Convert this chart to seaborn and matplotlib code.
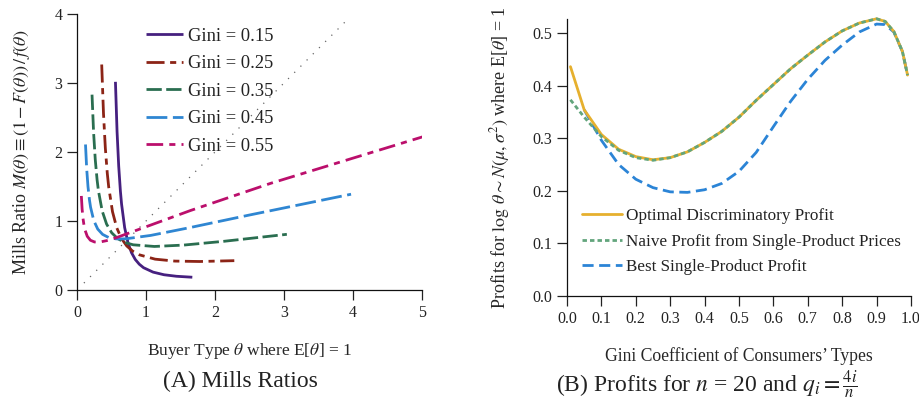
import numpy as np
import pandas as pd
import matplotlib
matplotlib.use("Agg")
import matplotlib.pyplot as plt
import seaborn as sns

# ---------------- Panel A data: Mills ratios ----------------
theta_g15 = [0.5571, 0.5805, 0.6043, 0.6290, 0.6460, 0.6907, 0.7385, 0.7895, 0.8441, 0.9025, 0.9649, 1.1030, 1.2607, 1.4411, 1.6711]
mills_g15 = [3.017, 2.297, 1.798, 1.433, 1.245, 0.904, 0.687, 0.542, 0.443, 0.374, 0.323, 0.259, 0.221, 0.199, 0.185]

theta_g25 = [0.3581, 0.3838, 0.4106, 0.4393, 0.4596, 0.5144, 0.5757, 0.6444, 0.7212, 0.8072, 0.9035, 1.1318, 1.4178, 1.7761, 2.2796]
mills_g25 = [3.268, 2.560, 2.058, 1.687, 1.492, 1.135, 0.902, 0.746, 0.638, 0.563, 0.510, 0.447, 0.419, 0.413, 0.425]

theta_g35 = [0.2178, 0.2404, 0.2647, 0.2914, 0.3108, 0.3648, 0.4284, 0.5029, 0.5904, 0.6931, 0.8139, 1.1218, 1.5462, 2.1313, 3.0413]
mills_g35 = [2.831, 2.284, 1.890, 1.594, 1.437, 1.146, 0.956, 0.829, 0.744, 0.689, 0.655, 0.631, 0.651, 0.706, 0.807]

theta_g45 = [0.1232, 0.1404, 0.1593, 0.1809, 0.1968, 0.2431, 0.3004, 0.3711, 0.4584, 0.5663, 0.6996, 1.0676, 1.6292, 2.4863, 3.9718]
mills_g45 = [2.109, 1.757, 1.498, 1.303, 1.199, 1.006, 0.883, 0.806, 0.761, 0.741, 0.741, 0.791, 0.903, 1.084, 1.388]

theta_g55 = [0.0630, 0.0742, 0.0872, 0.1023, 0.1138, 0.1487, 0.1942, 0.2536, 0.3313, 0.4327, 0.5652, 0.9642, 1.6450, 2.8064, 5.0717]
mills_g55 = [1.363, 1.173, 1.036, 0.931, 0.876, 0.778, 0.721, 0.696, 0.695, 0.716, 0.757, 0.903, 1.152, 1.546, 2.239]

gini_labels = ["Gini = 0.15", "Gini = 0.25", "Gini = 0.35", "Gini = 0.45", "Gini = 0.55"]
diag_line = [0.1, 3.95]

# ---------------- Panel B data: profits ----------------
gini = [0.01, 0.05, 0.10, 0.15, 0.20, 0.25, 0.30, 0.35, 0.40, 0.45, 0.50, 0.55,
        0.60, 0.65, 0.70, 0.75, 0.80, 0.85, 0.90, 0.925, 0.95, 0.975, 0.99]
optimal = [0.436, 0.354, 0.307, 0.279, 0.265, 0.259, 0.263, 0.274, 0.292, 0.313, 0.340, 0.372,
           0.402, 0.432, 0.458, 0.483, 0.504, 0.519, 0.527, 0.522, 0.503, 0.465, 0.420]
naive = [0.373, 0.340, 0.303, 0.277, 0.263, 0.258, 0.263, 0.274, 0.292, 0.313, 0.340, 0.372,
         0.402, 0.432, 0.458, 0.483, 0.504, 0.519, 0.527, 0.522, 0.503, 0.465, 0.420]
best_single = [np.nan, 0.354, 0.296, 0.250, 0.222, 0.206, 0.198, 0.197, 0.202, 0.214, 0.237, 0.273,
               0.322, 0.370, 0.412, 0.448, 0.477, 0.502, 0.517, 0.516, 0.502, 0.465, 0.420]
profit_labels = ["Optimal Discriminatory Profit", "Naive Profit from Single-Product Prices",
                 "Best Single-Product Profit"]

# ---------------- style ----------------
sns.set_style("ticks")
plt.rcParams["font.family"] = ["Liberation Serif", "DejaVu Serif"]
plt.rcParams["mathtext.fontset"] = "stix"
plt.rcParams["axes.linewidth"] = 0.9
plt.rcParams["xtick.major.size"] = 7
plt.rcParams["ytick.major.size"] = 7
plt.rcParams["xtick.major.width"] = 0.9
plt.rcParams["ytick.major.width"] = 0.9
plt.rcParams["text.color"] = "#222222"
plt.rcParams["xtick.color"] = "#222222"
plt.rcParams["ytick.color"] = "#222222"
plt.rcParams["axes.edgecolor"] = "#111111"

W, H = 919, 408
fig = plt.figure(figsize=(W / 100, H / 100), dpi=100)

# ---- Panel A ----
axA = fig.add_axes([77 / W, 1 - 290 / H, 345 / W, 276 / H])
colorsA = ["#46207f", "#8c2416", "#2a6e50", "#2f86d2", "#bb0f6c"]
dashesA = [None, (6.5, 2.0, 2.2, 2.0), (5.5, 1.6), (7.5, 2.0), (6.0, 2.2, 2.2, 2.2)]
seriesA = [(theta_g15, mills_g15), (theta_g25, mills_g25), (theta_g35, mills_g35),
           (theta_g45, mills_g45), (theta_g55, mills_g55)]

sns.lineplot(x=diag_line, y=diag_line, ax=axA, color="#666666", lw=0.9, sort=False)
axA.lines[-1].set_linestyle((0, (1, 6)))

handlesA = []
for (xs, ys), c, d, lab in zip(seriesA, colorsA, dashesA, gini_labels):
    df = pd.DataFrame({"theta": xs, "mills": ys})
    sns.lineplot(data=df, x="theta", y="mills", ax=axA, color=c, lw=2.0, sort=False,
                 estimator=None)
    ln = axA.lines[-1]
    if d is not None:
        ln.set_dashes(d)
    ln.set_solid_capstyle("butt")
    ln.set_dash_capstyle("butt")
    handlesA.append(ln)

axA.set_xlim(0, 5)
axA.set_ylim(0, 4)
axA.set_xticks([0, 1, 2, 3, 4, 5])
axA.set_yticks([0, 1, 2, 3, 4])
axA.tick_params(labelsize=11.5, pad=3.5)
sns.despine(ax=axA)
axA.set_xlabel(r"Buyer Type $\theta$ where E[$\theta$] = 1", fontsize=12.5)
axA.set_ylabel(r"Mills Ratio $M(\theta) \equiv (1 - F(\theta))\,/\,f(\theta)$", fontsize=13)
axA.xaxis.set_label_coords(0.5, -0.185)
axA.yaxis.set_label_coords(-0.13, 0.5)
axA.legend(handlesA, gini_labels, loc="upper left", bbox_to_anchor=(0.2, 0.95),
           frameon=False, fontsize=13.3, borderpad=0, borderaxespad=0,
           handlelength=2.0, handletextpad=0.3, labelspacing=0.57)

# ---- Panel B ----
ytopB = 0.526
axB = fig.add_axes([567 / W, 1 - 296 / H, 344 / W, ytopB * 526 / H])
dfB = pd.DataFrame({"gini": gini, "optimal": optimal, "naive": naive, "best": best_single})

sns.lineplot(data=dfB, x="gini", y="best", ax=axB, color="#2b84d6", lw=2.0, sort=False, estimator=None)
lb = axB.lines[-1]
lb.set_dashes((4.0, 2.0))
sns.lineplot(data=dfB, x="gini", y="optimal", ax=axB, color="#e6b02e", lw=2.0, sort=False, estimator=None)
lo = axB.lines[-1]
sns.lineplot(data=dfB, x="gini", y="naive", ax=axB, color="#62a57c", lw=2.0, sort=False, estimator=None)
lg = axB.lines[-1]
lg.set_dashes((1.6, 1.1))
for ln in (lb, lo, lg):
    ln.set_clip_on(False)

axB.set_xlim(0, 1.0)
axB.set_ylim(0, ytopB)
axB.set_xticks(np.arange(0, 1.01, 0.1))
axB.set_xticklabels([f"{v:.1f}" for v in np.arange(0, 1.01, 0.1)])
axB.set_yticks([0.0, 0.1, 0.2, 0.3, 0.4, 0.5])
axB.set_yticklabels(["0.0", "0.1", "0.2", "0.3", "0.4", "0.5"])
axB.tick_params(labelsize=11.5, pad=3.5)
sns.despine(ax=axB)
axB.set_xlabel("Gini Coefficient of Consumers\u2019 Types", fontsize=12.7)
axB.set_ylabel(r"Profits for $\log\,\theta \sim N(\mu, \sigma^2)$ where E[$\theta$] = 1", fontsize=13)
axB.xaxis.set_label_coords(0.5, -0.184)
axB.yaxis.set_label_coords(-0.16, 0.5)
axB.legend([lo, lg, lb], profit_labels, loc="upper left", bbox_to_anchor=(0.045, 0.317),
           frameon=False, fontsize=12.3, borderpad=0, borderaxespad=0,
           handlelength=2.3, handletextpad=0.25, labelspacing=0.56)

# ---- captions ----
fig.text(240 / W, 1 - 381 / H, "(A) Mills Ratios", ha="center", va="center", fontsize=17)
fig.text(707 / W, 1 - 384 / H, r"(B) Profits for $n$ = 20 and $q_i = \frac{4i}{n}$",
         ha="center", va="center", fontsize=17)

fig.savefig("out.png", dpi=100)
